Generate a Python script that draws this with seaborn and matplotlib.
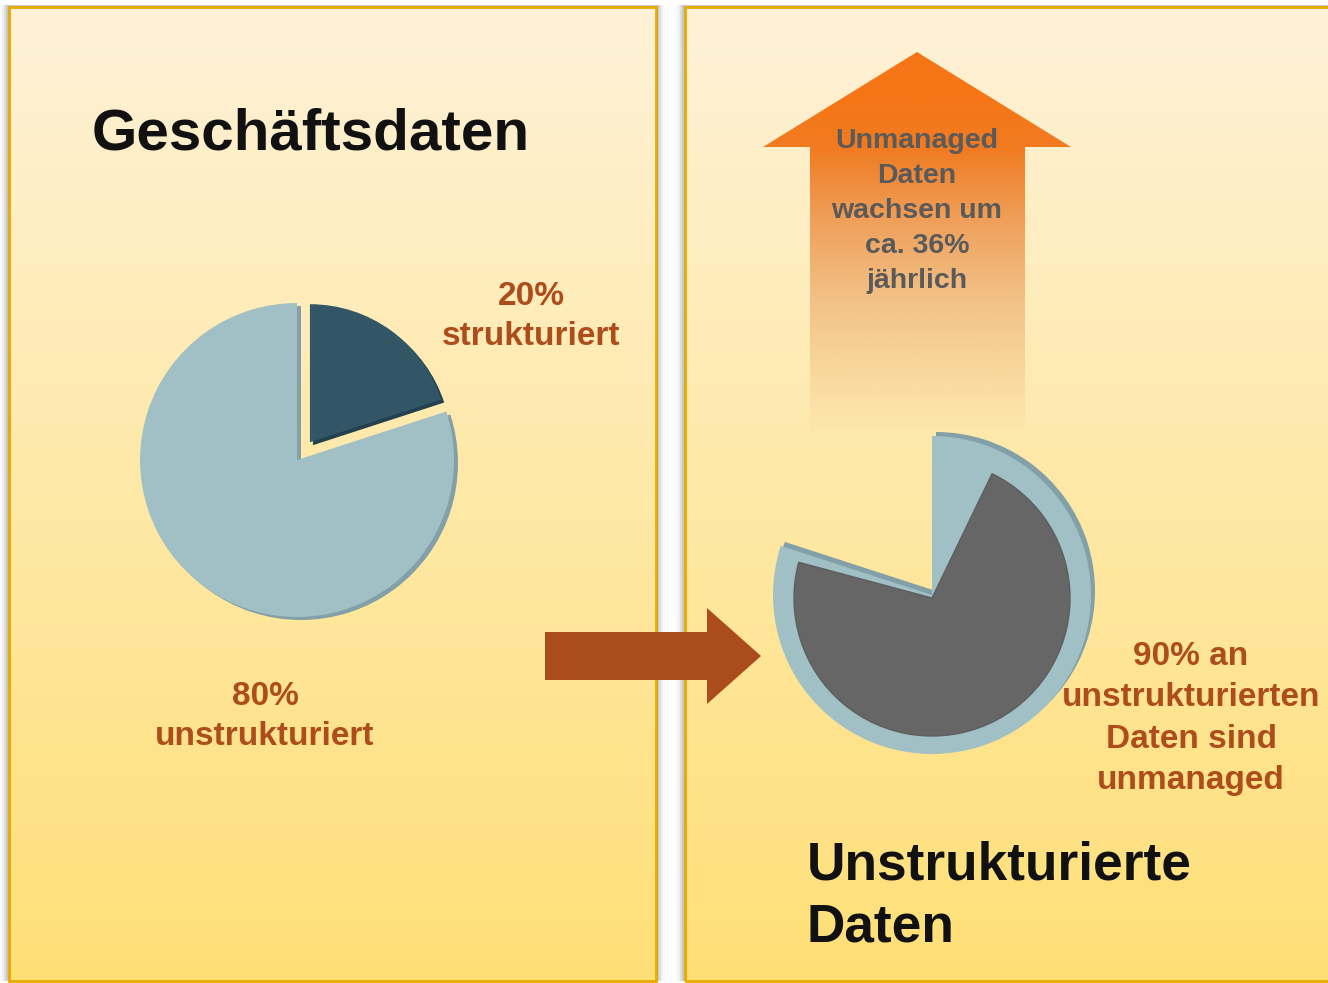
import numpy as np
import matplotlib
matplotlib.use("Agg")
import matplotlib.pyplot as plt
import seaborn as sns
from matplotlib.patches import Wedge, Polygon, Rectangle

sns.set_theme(style="white")
plt.rcParams['font.family'] = ['Liberation Sans', 'DejaVu Sans']

# ---- data ----
categories = ["unstrukturiert", "strukturiert"]
share_values = [80, 20]                 # % of business data
unmanaged_share = 90                    # % of unstructured data that is unmanaged
growth_rate = 36                        # % yearly growth of unmanaged data
title_left = "Geschäftsdaten"
title_right = ["Unstrukturierte", "Daten"]

W, H = 1328, 983
fig = plt.figure(figsize=(W / 100, H / 100), dpi=100)
ax = fig.add_axes([0, 0, 1, 1])
ax.set_xlim(0, W)
ax.set_ylim(0, H)
ax.axis('off')
fig.patch.set_facecolor('white')


def Y(y):
    return H - y


# ---- panels with vertical gradient ----
top_c = np.array([254, 242, 216]) / 255
bot_c = np.array([254, 223, 118]) / 255
t = np.linspace(0, 1, 256)[:, None]
grad = (top_c[None, :] * (1 - t) + bot_c[None, :] * t)[:, None, :]

for (x0, x1) in [(9, 656), (685, 1340)]:
    y0, y1 = 7, 981
    for k, a in enumerate([0.10, 0.07, 0.04, 0.02]):
        ax.add_patch(Rectangle((x0 - 3 - k * 2, Y(y1)), x1 - x0 + 6 + k * 4, y1 - y0 + 2,
                               facecolor='black', alpha=a, edgecolor='none', zorder=0))
    ax.imshow(grad, extent=(x0, x1, Y(y1), Y(y0)), origin='upper', aspect='auto', zorder=1)
    ax.add_patch(Rectangle((x0, Y(y1)), x1 - x0, y1 - y0, facecolor='none',
                           edgecolor='#E8AA00', linewidth=2.0, zorder=2))

# ---- left pie (exploded structured slice) ----
light = '#A0C0C5'
light_sh = '#83A0A8'
dark = '#335667'
dark_sh = '#22404E'
cx, cy, r = 297, 460, 157
span_struct = 360 * share_values[1] / sum(share_values)
span_unstr = 360 * share_values[0] / sum(share_values)
th_struct1, th_struct2 = 90 - span_struct, 90
th_un1, th_un2 = 90, 90 + span_unstr

ax.add_patch(Wedge((cx + 4, Y(cy + 3)), r, th_un1, th_un2, facecolor=light_sh, edgecolor='none', zorder=3))
ax.add_patch(Wedge((cx, Y(cy)), r, th_un1, th_un2, facecolor=light, edgecolor='none', zorder=4))
mid = np.deg2rad((th_struct1 + th_struct2) / 2)
ex = 22
dx, dy = ex * np.cos(mid), ex * np.sin(mid)
rs = 138
ax.add_patch(Wedge((cx + dx + 3, Y(cy) + dy - 3), rs, th_struct1, th_struct2,
                   facecolor=dark_sh, edgecolor='none', zorder=3))
ax.add_patch(Wedge((cx + dx, Y(cy) + dy), rs, th_struct1, th_struct2,
                   facecolor=dark, edgecolor='none', zorder=4))

lab_c = '#AD4D1B'
ax.text(531, Y(305), f"{share_values[1]}%", ha='center', va='baseline', fontsize=24,
        fontweight='bold', color=lab_c, zorder=6)
ax.text(531, Y(345), categories[1], ha='center', va='baseline', fontsize=24,
        fontweight='bold', color=lab_c, zorder=6)
ax.text(265, Y(705), f"{share_values[0]}%", ha='center', va='baseline', fontsize=24,
        fontweight='bold', color=lab_c, zorder=6)
ax.text(265, Y(745), categories[0], ha='center', va='baseline', fontsize=24,
        fontweight='bold', color=lab_c, zorder=6)

ax.text(92, Y(150), title_left, ha='left', va='baseline', fontsize=42,
        fontweight='bold', color='#111111', zorder=6)

# ---- brown arrow between panels ----
arrow_pts = [(545, 632), (707, 632), (707, 608), (761, 656), (707, 704), (707, 680), (545, 680)]
ax.add_patch(Polygon([(x, Y(y)) for x, y in arrow_pts], closed=True, facecolor='#AA4C1C',
                     edgecolor='none', zorder=5))

# ---- orange growth arrow with fading gradient ----
up_pts = [(917, 52), (1071, 147), (1025, 147), (1025, 440), (810, 440), (810, 147), (763, 147)]
up_poly = Polygon([(x, Y(y)) for x, y in up_pts], closed=True, facecolor='none', edgecolor='none')
ax.add_patch(up_poly)
yy = np.linspace(52, 440, 400)
alpha = np.clip((440 - yy) / (440 - 150), 0, 1) ** 1.1
col_top = np.array([245, 118, 22]) / 255
col_mid = np.array([228, 140, 70]) / 255
cmix = np.clip((yy - 100) / 200, 0, 1)[:, None]
cols = col_top * (1 - cmix) + col_mid * cmix
rgba = np.concatenate([cols, alpha[:, None]], axis=1)[:, None, :]
im = ax.imshow(rgba, extent=(763, 1071, Y(440), Y(52)), origin='upper', aspect='auto', zorder=3)
im.set_clip_path(up_poly)

grow_lines = ["Unmanaged", "Daten", "wachsen um", f"ca. {growth_rate}%", "jährlich"]
for i, s in enumerate(grow_lines):
    ax.text(917, Y(148 + 35 * i), s, ha='center', va='baseline', fontsize=20.5,
            fontweight='bold', color='#5A5A5A', zorder=6)

# ---- right pie: unstructured slice with unmanaged part ----
rcx, rcy, R = 932, 595, 159
th_r1, th_r2 = 90 + span_struct, 90 + span_struct + span_unstr
ax.add_patch(Wedge((rcx + 4, Y(rcy) + 4), R, th_r1, th_r2, facecolor=light_sh, edgecolor='none', zorder=3))
ax.add_patch(Wedge((rcx, Y(rcy)), R, th_r1, th_r2, facecolor=light, edgecolor='none', zorder=4))
span_unm = span_unstr * unmanaged_share / 100
g1 = th_r1 + 3
ax.add_patch(Wedge((rcx, Y(rcy + 3)), 138, g1, g1 + span_unm, facecolor='#666666',
                   edgecolor='#5E5E5E', linewidth=1, zorder=5))

right_lines = [f"{unmanaged_share}% an", "unstrukturierten", "Daten sind", "unmanaged"]
for i, s in enumerate(right_lines):
    ax.text(1191, Y(665 + 41.5 * i), s, ha='center', va='baseline', fontsize=24,
            fontweight='bold', color=lab_c, zorder=6)

ax.text(807, Y(880), title_right[0], ha='left', va='baseline', fontsize=38.3,
        fontweight='bold', color='#111111', zorder=6)
ax.text(807, Y(942), title_right[1], ha='left', va='baseline', fontsize=38.3,
        fontweight='bold', color='#111111', zorder=6)

fig.savefig("out.png", dpi=100, facecolor='white')
